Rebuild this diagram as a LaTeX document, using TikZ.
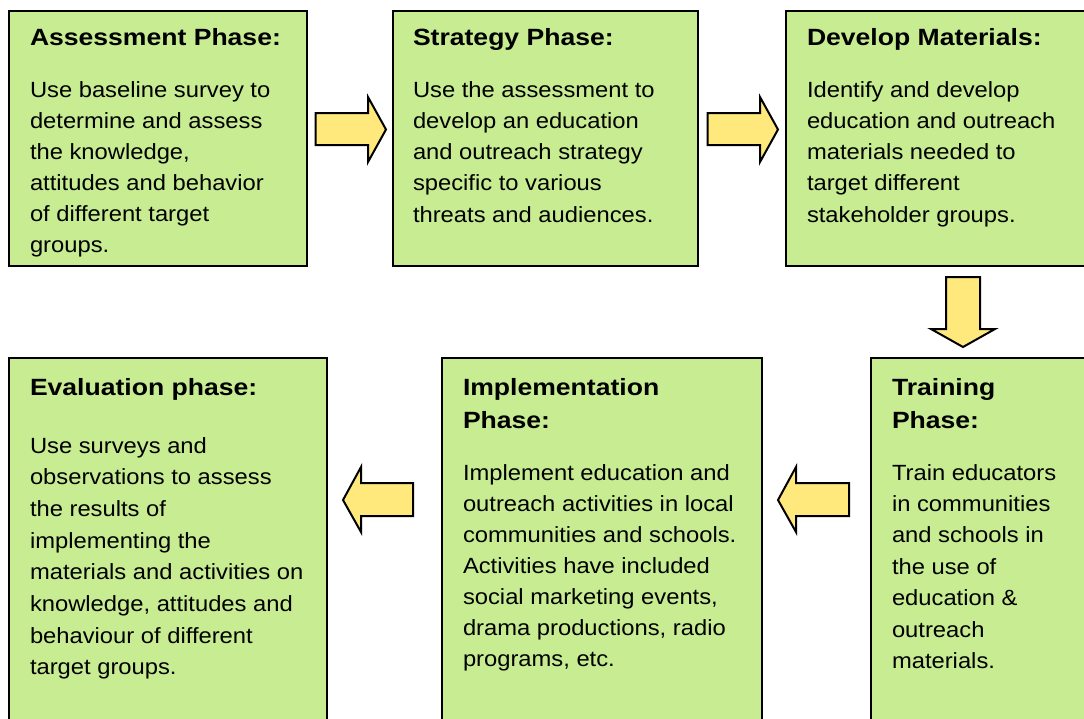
\documentclass[tikz,border=0pt]{standalone}
\usepackage{fontspec}
\setmainfont{Liberation Sans}[FakeStretch=1.08]
\newfontfamily\titlefont{Liberation Sans}[FakeStretch=1.13]
\definecolor{boxgreen}{RGB}{199,236,146}
\definecolor{arrowyellow}{RGB}{255,233,125}
\tikzset{
  phasebox/.style={draw=black, line width=2pt, fill=boxgreen, rectangle, anchor=north west, inner sep=0pt, outer sep=0pt},
  titletext/.style={anchor=base west, inner sep=0pt, outer sep=0pt, font=\titlefont\bfseries\fontsize{23.5}{33.5}\selectfont},
  bodytext/.style={anchor=base west, inner sep=0pt, outer sep=0pt},
  blockarrow/.style={draw=black, line width=2pt, fill=arrowyellow, line join=miter}
}
\newcommand{\bodybox}[2]{\parbox[t]{340pt}{\raggedright\fontsize{22}{#1}\selectfont #2}}
\newcommand{\titlebox}[1]{\parbox[t]{340pt}{\raggedright\titlefont\bfseries\fontsize{23.5}{33.5}\selectfont #1}}
\begin{document}
\begin{tikzpicture}[x=1pt,y=-1pt]
\clip (0,0) rectangle (1084,718);
\fill[white] (0,0) rectangle (1084,718);
% boxes
\node[phasebox, minimum width=298pt, minimum height=255pt] (A) at (9,11) {};
\node[phasebox, minimum width=305pt, minimum height=255pt] (S) at (393,11) {};
\node[phasebox, minimum width=310pt, minimum height=255pt] (D) at (786,11) {};
\node[phasebox, minimum width=318pt, minimum height=380pt] (E) at (9,358) {};
\node[phasebox, minimum width=320pt, minimum height=380pt] (I) at (442,358) {};
\node[phasebox, minimum width=230pt, minimum height=380pt] (T) at (871,358) {};
% texts
\node[bodytext] (At) at (30,45) {\titlebox{Assessment Phase:}};
\node[bodytext] (Ab) at (30,97) {\bodybox{31}{Use baseline survey to\\determine and assess\\the knowledge,\\attitudes and behavior\\of different target\\groups.}};
\node[bodytext] (St) at (413,45) {\titlebox{Strategy Phase:}};
\node[bodytext] (Sb) at (413,97) {\bodybox{31.25}{Use the assessment to\\develop an education\\and outreach strategy\\specific to various\\threats and audiences.}};
\node[bodytext] (Dt) at (807,45) {\titlebox{Develop Materials:}};
\node[bodytext] (Db) at (807,97) {\bodybox{31.25}{Identify and develop\\education and outreach\\materials needed to\\target different\\stakeholder groups.}};
\node[bodytext] (Et) at (30,395) {\titlebox{Evaluation phase:}};
\node[bodytext] (Eb) at (30,453) {\bodybox{31.7}{Use surveys and\\observations to assess\\the results of\\implementing the\\materials and activities on\\knowledge, attitudes and\\behaviour of different\\target groups.}};
\node[bodytext] (It) at (463,395) {\titlebox{Implementation\\Phase:}};
\node[bodytext] (Ib) at (463,480) {\bodybox{31}{Implement education and\\outreach activities in local\\communities and schools.\\Activities have included\\social marketing events,\\drama productions, radio\\programs, etc.}};
\node[bodytext] (Tt) at (892,395) {\titlebox{Training\\Phase:}};
\node[bodytext] (Tb) at (892,480) {\bodybox{31.4}{Train educators\\in communities\\and schools in\\the use of\\education \&\\outreach\\materials.}};
% block arrows
\draw[blockarrow] (315.7,113) -- (368,113) -- (368,97) -- (386,129.5) -- (368,162) -- (368,145) -- (315.7,145) -- cycle;
\draw[blockarrow] (707.7,113) -- (760,113) -- (760,97) -- (778,129.5) -- (760,162) -- (760,145) -- (707.7,145) -- cycle;
\draw[blockarrow] (946,277) -- (980,277) -- (980,329) -- (995,329) -- (963,347) -- (931,329) -- (946,329) -- cycle;
\draw[blockarrow] (413,483) -- (361,483) -- (361,467) -- (343,500) -- (361,532) -- (361,516) -- (413,516) -- cycle;
\draw[blockarrow] (849,483) -- (796,483) -- (796,467) -- (778,500) -- (796,532) -- (796,516) -- (849,516) -- cycle;
\end{tikzpicture}
\end{document}
